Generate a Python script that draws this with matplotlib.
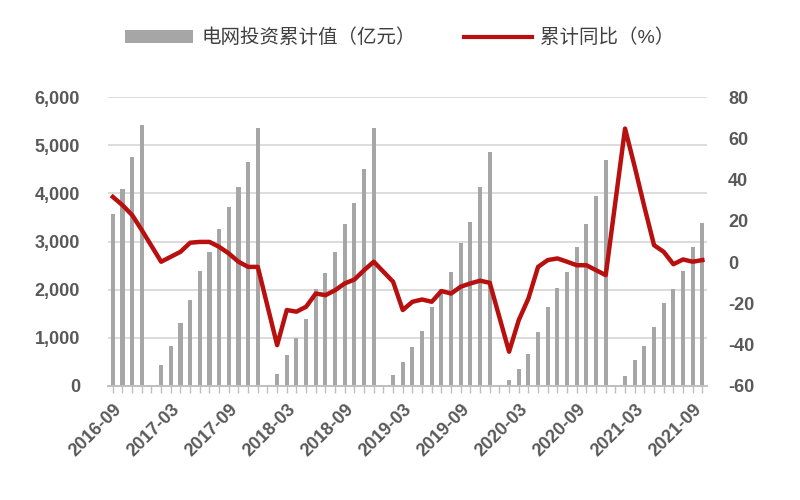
import numpy as np
import pandas as pd
import matplotlib
matplotlib.use("Agg")
import matplotlib.pyplot as plt
from matplotlib.patches import Patch
from matplotlib.lines import Line2D

plt.rcParams['font.family'] = ['Liberation Sans', 'Noto Sans CJK SC', 'DejaVu Sans']

# ── Data: monthly, 2016-09 .. 2021-10 (January not published) ──
months = pd.period_range('2016-09', '2021-10', freq='M').strftime('%Y-%m').tolist()
nan = np.nan

invest = [3570, 4090, 4760, 5410,
          nan, 430, 840, 1300, 1780, 2390, 2790, 3250, 3720, 4130, 4650, 5350,
          nan, 250, 640, 990, 1400, 2010, 2350, 2790, 3360, 3800, 4500, 5360,
          nan, 230, 490, 800, 1150, 1630, 2010, 2370, 2960, 3400, 4130, 4850,
          nan, 120, 350, 660, 1120, 1650, 2040, 2370, 2890, 3360, 3940, 4690,
          nan, 210, 530, 840, 1220, 1730, 2020, 2390, 2880, 3380]

yoy = [31.6, 27.6, 22.8, 15.5,
       nan, 0.2, 2.6, 5.0, 9.4, 9.8, 9.8, 7.4, 4.2, 0.2, -2.3, -2.3,
       nan, -40.2, -23.2, -24.0, -21.6, -15.2, -16.0, -13.6, -10.3, -8.4, -3.9, 0.2,
       nan, -9.5, -23.2, -19.2, -18.1, -19.2, -14.0, -15.2, -11.9, -10.3, -9.0, -10.0,
       nan, -43.4, -28.1, -17.6, -2.3, 1.0, 1.8, 0.2, -1.5, -1.5, -3.9, -6.3,
       nan, 64.7, 46.2, 26.8, 8.2, 5.0, -1.0, 1.3, 0.2, 1.0]

bar_label = '电网投资累计值（亿元）'
line_label = '累计同比（%）'

# ── Chart ──────────────────────────────────────
x = np.arange(len(months))
inv = np.array(invest, dtype=float)
yy = np.array(yoy, dtype=float)

fig = plt.figure(figsize=(8, 5), dpi=100)
ax = fig.add_axes([0.135, 0.228, 0.749, 0.578])
ax2 = ax.twinx()

grid_c = '#D9D9D9'
txt_c = '#595959'
bar_c = '#A6A6A6'
line_c = '#B80F0F'

ax.bar(x, inv, width=0.42, color=bar_c, zorder=2)
ok = ~np.isnan(yy)
ax2.plot(x[ok], yy[ok], color=line_c, lw=3.2, zorder=3, solid_joinstyle='round')

ax.set_xlim(-0.5, len(months) - 0.5)
ax.set_ylim(0, 6000)
ax.set_yticks(range(0, 6001, 1000))
ax.set_yticklabels([f'{v:,}' for v in range(0, 6001, 1000)], fontweight='bold')
ax2.set_ylim(-60, 80)
ax2.set_yticks(range(-60, 81, 20))
ax2.set_yticklabels([str(v) for v in range(-60, 81, 20)], fontweight='bold')

ax.yaxis.grid(True, color=grid_c, lw=1.3, zorder=0)
ax.set_axisbelow(True)

major = [i for i, m in enumerate(months) if m[-2:] in ('03', '09')]
ax.set_xticks(major)
ax.set_xticklabels([months[i] for i in major], rotation=45, ha='right',
                   rotation_mode='anchor', fontsize=13, color=txt_c,
                   fontweight='bold')
ax.set_xticks(x, minor=True)
ax.tick_params(axis='x', which='both', length=5, color='#BFBFBF', width=1, pad=6)
ax.tick_params(axis='y', length=0, labelsize=13, labelcolor=txt_c, pad=20)
ax2.tick_params(axis='y', length=0, labelsize=13, labelcolor=txt_c, pad=15)

for a in (ax, ax2):
    for s in ('top', 'left', 'right'):
        a.spines[s].set_visible(False)
    a.spines['bottom'].set_color('#BFBFBF')
    a.spines['bottom'].set_linewidth(1.2)

handles = [Patch(facecolor=bar_c, edgecolor='none'),
           Line2D([0], [0], color=line_c, lw=3)]
fig.legend(handles, [bar_label, line_label], loc='center', ncol=2,
           bbox_to_anchor=(0.5, 0.924), frameon=False, fontsize=14,
           handlelength=3.5, handleheight=0.7, columnspacing=2.5,
           handletextpad=0.4, labelcolor='#404040')

plt.savefig('out.png', dpi=100)
